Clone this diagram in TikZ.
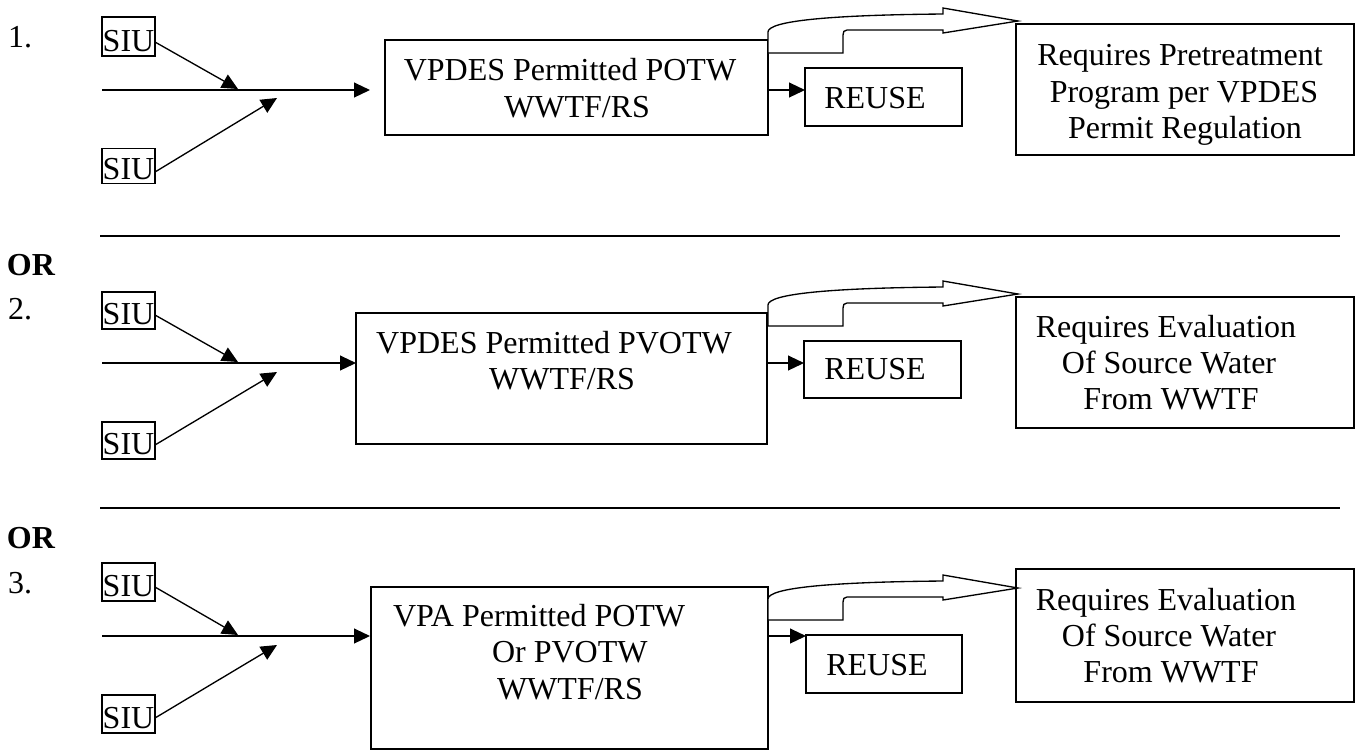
\documentclass[tikz,border=0pt]{standalone}
\usepackage{fontspec}
\setmainfont{Liberation Serif}
\usetikzlibrary{arrows.meta,calc}
\tikzset{
  box/.style={draw, line width=0.5pt, inner sep=0pt, outer sep=0pt},
  wh/.style 2 args={minimum width={#1*0.375pt}, minimum height={#2*0.375pt}},
  txt/.style={inner sep=0pt, outer sep=0pt, font=\fontsize{12}{14}\selectfont, anchor=base},
  txtl/.style={txt, anchor=base west},
  bold/.style={txtl, font=\fontsize{12}{14}\selectfont\bfseries},
  arr/.style={line width=0.5pt, -{Triangle[length=6pt,width=5.6pt]}},
  sep/.style={line width=0.9pt},
  pics/bigarrow/.style={code={
    \draw[line width=0.5pt, line join=miter, fill=white]
      (0,-21) .. controls (0,-32) and (60,-38) .. (175,-39)
      -- (175,-45) -- (250,-32) -- (175,-20) -- (175,-23) -- (79,-23)
      .. controls (76,-23) and (75,-21) .. (75,-18) -- (75,0) -- (0,0) -- cycle;
  }}
}
\begin{document}
\begin{tikzpicture}[x=0.375pt, y=-0.375pt]
\useasboundingbox (0,0) rectangle (1358,752);

% ---------------- Section 1 ----------------
\node[txtl] (n1) at (8,47) {1.};
\node[box, wh={53}{39}] (siuA1) at (128.5,36.5) {};
\node[txt] (siuA1t) at (128.5,51) {SIU};
\node[box, wh={53}{35}] (siuB1) at (128.5,166) {};
\node[txt] (siuB1t) at (128.5,179) {SIU};
\coordinate (s1) at (102,90);
\coordinate (e1) at (370,90);
\coordinate (ta1) at (238,89);
\coordinate (tb1) at (277,98);
\draw[arr] (s1) -- (e1);
\draw[arr] ($(siuA1.east)+(0,5.5)$) -- (ta1);
\draw[arr] ($(siuB1.east)+(0,6)$) -- (tb1);
\node[box, wh={383}{95}] (box1) at (576.5,87.5) {};
\node[txt] (box1a) at (570,80) {VPDES Permitted POTW};
\node[txt] (box1b) at (577,117) {WWTF/RS};
\node[box, wh={157}{58}] (re1) at (883.5,97) {};
\node[txt] (re1t) at (875,108) {REUSE};
\draw[arr] ($(box1.east)+(0,2.5)$) -- ($(re1.west)+(0,-7)$);
\pic at (768,53) {bigarrow};
\node[box, wh={338}{131}] (r1) at (1185,89.5) {};
\node[txt] (r1a) at (1180,65) {Requires Pretreatment};
\node[txt] (r1b) at (1184,102) {Program per VPDES};
\node[txt] (r1c) at (1185,138) {Permit Regulation};

\coordinate (l1a) at (100,236);
\coordinate (l1b) at (1340,236);
\draw[sep] (l1a) -- (l1b);

% ---------------- Section 2 ----------------
\node[bold] (or2) at (7,275) {OR};
\node[txtl] (n2) at (8,319) {2.};
\node[box, wh={53}{37}] (siuA2) at (128.5,310.5) {};
\node[txt] (siuA2t) at (128.5,324) {SIU};
\node[box, wh={53}{37}] (siuB2) at (128.5,440.5) {};
\node[txt] (siuB2t) at (128.5,454) {SIU};
\coordinate (s2) at (102,363);
\coordinate (ta2) at (238,362);
\coordinate (tb2) at (277,372);
\node[box, wh={411}{131}] (box2) at (561.5,378.5) {};
\draw[arr] (s2) -- ($(box2.west)+(0,-15.5)$);
\draw[arr] ($(siuA2.east)+(0,4.5)$) -- (ta2);
\draw[arr] ($(siuB2.east)+(0,4.5)$) -- (tb2);
\node[txt] (box2a) at (554,353) {VPDES Permitted PVOTW};
\node[txt] (box2b) at (562,389) {WWTF/RS};
\node[box, wh={157}{57}] (re2) at (882.5,369.5) {};
\node[txt] (re2t) at (875,379) {REUSE};
\draw[arr] ($(box2.east)+(0,-15.5)$) -- ($(re2.west)+(0,-6.5)$);
\pic at (768,326) {bigarrow};
\node[box, wh={338}{131}] (r2) at (1185,362.5) {};
\node[txt] (r2a) at (1166,337) {Requires Evaluation};
\node[txt] (r2b) at (1169,373) {Of Source Water};
\node[txt] (r2c) at (1171,409) {From WWTF};

\coordinate (l2a) at (100,508);
\coordinate (l2b) at (1340,508);
\draw[sep] (l2a) -- (l2b);

% ---------------- Section 3 ----------------
\node[bold] (or3) at (7,548) {OR};
\node[txtl] (n3) at (8,593) {3.};
\node[box, wh={53}{38}] (siuA3) at (128.5,582) {};
\node[txt] (siuA3t) at (128.5,596) {SIU};
\node[box, wh={53}{38}] (siuB3) at (128.5,714) {};
\node[txt] (siuB3t) at (128.5,728) {SIU};
\coordinate (s3) at (102,636);
\coordinate (e3) at (370,636);
\coordinate (ta3) at (238,635);
\coordinate (tb3) at (277,645);
\draw[arr] (s3) -- (e3);
\draw[arr] ($(siuA3.east)+(0,5)$) -- (ta3);
\draw[arr] ($(siuB3.east)+(0,4)$) -- (tb3);
\node[box, wh={397}{162}] (box3) at (569.5,668) {};
\node[txtl] (box3a) at (393,626) {VPA Permitted POTW};
\node[txtl] (box3b) at (492,662) {Or PVOTW};
\node[txtl] (box3c) at (497,699) {WWTF/RS};
\node[box, wh={156}{58}] (re3) at (884,664) {};
\node[txt] (re3t) at (877,675) {REUSE};
\draw[arr] ($(box3.east)+(0,-32)$) -- ($(re3.north west)+(0,1)$);
\pic at (768,620) {bigarrow};
\node[box, wh={338}{133}] (r3) at (1185,635.5) {};
\node[txt] (r3a) at (1166,610) {Requires Evaluation};
\node[txt] (r3b) at (1169,646) {Of Source Water};
\node[txt] (r3c) at (1171,682) {From WWTF};
\end{tikzpicture}
\end{document}
